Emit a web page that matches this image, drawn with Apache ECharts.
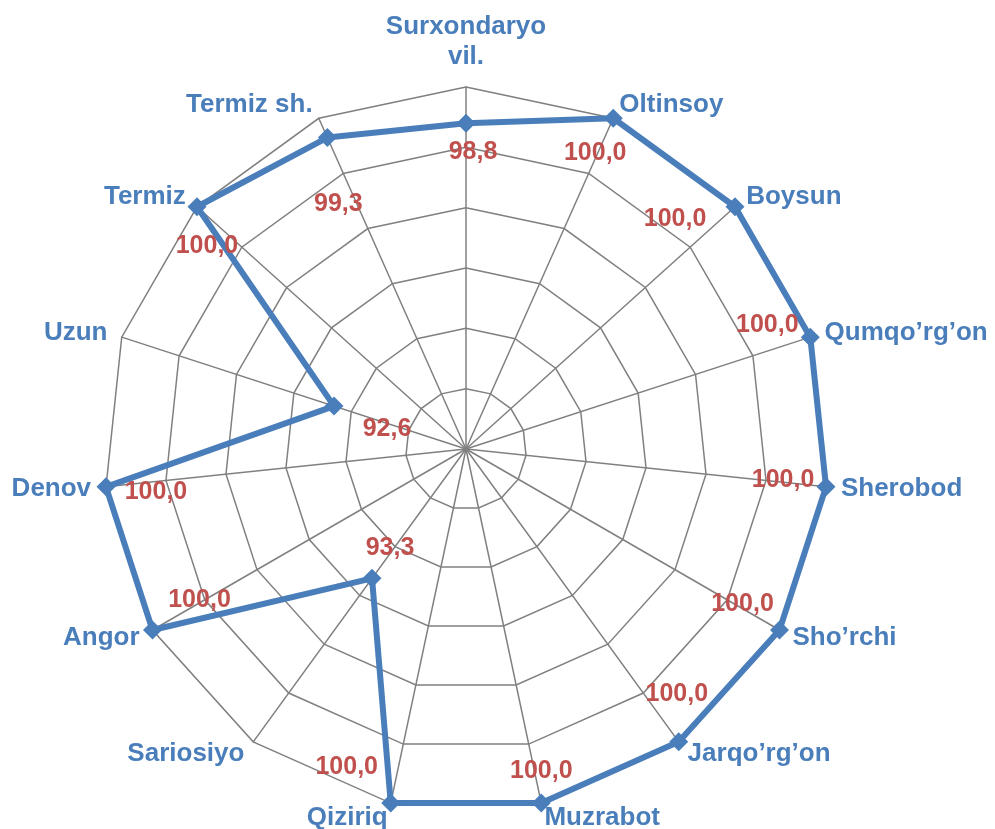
<!DOCTYPE html>
<html>
<head>
<meta charset="utf-8">
<script src="https://cdn.jsdelivr.net/npm/echarts@6/dist/echarts.min.js"></script>
<style>
html,body{margin:0;padding:0;background:#fff;}
#chart{width:995px;height:829px;}
</style>
</head>
<body>
<div id="chart"></div>
<script>
// Data (clockwise from top)
var categories = ['Surxondaryo\nvil.', 'Oltinsoy', 'Boysun', 'Qumqo\u2019rg\u2019on', 'Sherobod', 'Sho\u2019rchi', 'Jarqo\u2019rg\u2019on', 'Muzrabot', 'Qiziriq', 'Sariosiyo', 'Angor', 'Denov', 'Uzun', 'Termiz', 'Termiz sh.'];
var values = [98.8, 100.0, 100.0, 100.0, 100.0, 100.0, 100.0, 100.0, 100.0, 93.3, 100.0, 100.0, 92.6, 100.0, 99.3];
var axisMin = 88, axisMax = 100, splits = 6;

// Label offsets relative to each point (styling)
var labelOffsets = [[7,29],[-18,35],[-60,12],[-43,-12],[-43,-7],[-37,-26],[-2,-48],[0,-32],[-44,-36],[18,-30],[47,-30],[50,5],[53,23],[10,39],[11,67]];

// ECharts radar runs counter-clockwise; reorder to draw clockwise
var n = categories.length;
var order = categories.map(function(_, i){ return i === 0 ? 0 : n - i; });
var indicators = order.map(function(k){ return {name: categories[k], min: axisMin, max: axisMax}; });
var orderedValues = order.map(function(k){ return values[k]; });

var labelItems = order.map(function(k, j){
  return {
    value: orderedValues,
    label: {
      show: true,
      position: 'inside',
      offset: labelOffsets[k],
      color: '#C0504D',
      fontSize: 25,
      fontWeight: 'bold',
      fontFamily: 'Liberation Sans, Arial, sans-serif',
      formatter: function(p){
        return p.dimensionIndex === j ? values[k].toFixed(1).replace('.', ',') : '';
      }
    }
  };
});

var chart = echarts.init(document.getElementById('chart'), null, {renderer: 'canvas'});
chart.setOption({
  animation: false,
  backgroundColor: '#fff',
  radar: {
    center: [466, 449],
    radius: 362,
    startAngle: 90,
    shape: 'polygon',
    splitNumber: splits,
    nameGap: 15,
    indicator: indicators,
    axisName: {
      color: '#4A7EBB',
      fontSize: 26,
      fontWeight: 'bold',
      fontFamily: 'Liberation Sans, Arial, sans-serif',
      lineHeight: 30
    },
    splitLine: {lineStyle: {color: '#808080', width: 1.5}},
    axisLine: {lineStyle: {color: '#808080', width: 1.5}},
    splitArea: {show: false},
    axisTick: {show: false},
    axisLabel: {show: false}
  },
  series: [
    {
      type: 'radar',
      symbol: 'diamond',
      symbolSize: 19,
      lineStyle: {color: '#4A7EBB', width: 6},
      itemStyle: {color: '#4A7EBB'},
      data: [{value: orderedValues}],
      z: 2
    },
    {
      type: 'radar',
      symbol: 'circle',
      symbolSize: 2,
      lineStyle: {opacity: 0, width: 0},
      itemStyle: {color: 'rgba(0,0,0,0)'},
      data: labelItems,
      z: 3,
      silent: true
    }
  ]
});
</script>
</body>
</html>
